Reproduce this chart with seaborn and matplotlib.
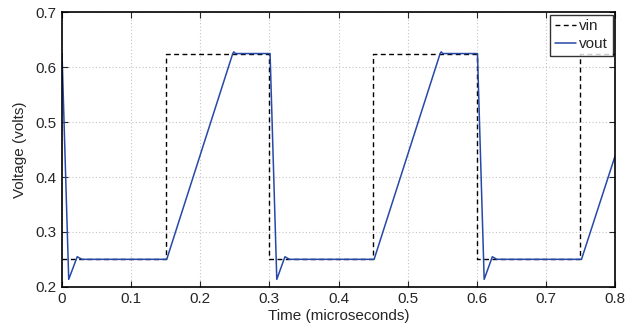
import matplotlib
matplotlib.use("Agg")
import matplotlib.pyplot as plt
import pandas as pd
import seaborn as sns

# input square wave (breakpoints)
vin_t = [0.0, 0.15, 0.15, 0.30, 0.30, 0.45, 0.45, 0.60, 0.60, 0.75, 0.75, 0.80]
vin_v = [0.25, 0.25, 0.625, 0.625, 0.25, 0.25, 0.625, 0.625, 0.25, 0.25, 0.625, 0.625]

# output waveform (breakpoints)
vout_t = [0.0, 0.0097, 0.022, 0.029, 0.1515, 0.247, 0.2485, 0.251,
          0.301, 0.3107, 0.3225, 0.329, 0.4515, 0.547, 0.5485, 0.551,
          0.601, 0.6107, 0.6225, 0.629, 0.7515, 0.80]
vout_v = [0.625, 0.2135, 0.2547, 0.25, 0.25, 0.625, 0.628, 0.625,
          0.625, 0.2135, 0.2547, 0.25, 0.25, 0.625, 0.628, 0.625,
          0.625, 0.2135, 0.2547, 0.25, 0.25, 0.438]

x_ticks = [0, 0.1, 0.2, 0.3, 0.4, 0.5, 0.6, 0.7, 0.8]
x_labels = ["0", "0.1", "0.2", "0.3", "0.4", "0.5", "0.6", "0.7", "0.8"]
y_ticks = [0.2, 0.3, 0.4, 0.5, 0.6, 0.7]

sns.set_style("ticks")
plt.rcParams['font.family'] = ['Liberation Sans', 'DejaVu Sans']

df_in = pd.DataFrame({"t": vin_t, "v": vin_v})
df_out = pd.DataFrame({"t": vout_t, "v": vout_v})

fig = plt.figure(figsize=(6.27, 3.35), dpi=100)
ax = fig.add_axes([0.0989, 0.144, 0.882, 0.819])

sns.lineplot(x="t", y="v", data=df_in, ax=ax, estimator=None, sort=False,
             color="black", linestyle=(0, (3.5, 2.5)), linewidth=1.0, label="vin")
sns.lineplot(x="t", y="v", data=df_out, ax=ax, estimator=None, sort=False,
             color="#2649a8", linewidth=1.1, label="vout")

ax.set_xlim(0, 0.8)
ax.set_ylim(0.2, 0.7)
ax.set_xticks(x_ticks)
ax.set_xticklabels(x_labels)
ax.set_yticks(y_ticks)
ax.grid(True, color="#c4c4c4", linestyle=(0, (1, 2)), linewidth=0.8)
ax.tick_params(direction="in", top=True, right=True, length=4, width=0.8,
               labelsize=11, pad=4)
for s in ax.spines.values():
    s.set_linewidth(1.2)
    s.set_color("black")

ax.set_xlabel("Time (microseconds)", fontsize=11, labelpad=2)
ax.set_ylabel("Voltage (volts)", fontsize=11, labelpad=6)

leg = ax.legend(loc="upper right", frameon=True, fontsize=11, handlelength=1.4,
                handletextpad=0.2, borderpad=0.3, borderaxespad=0.15,
                labelspacing=0.25, fancybox=False)
leg.get_frame().set_edgecolor("black")
leg.get_frame().set_linewidth(1.0)

plt.savefig("out.png", dpi=100)
plt.close(fig)
